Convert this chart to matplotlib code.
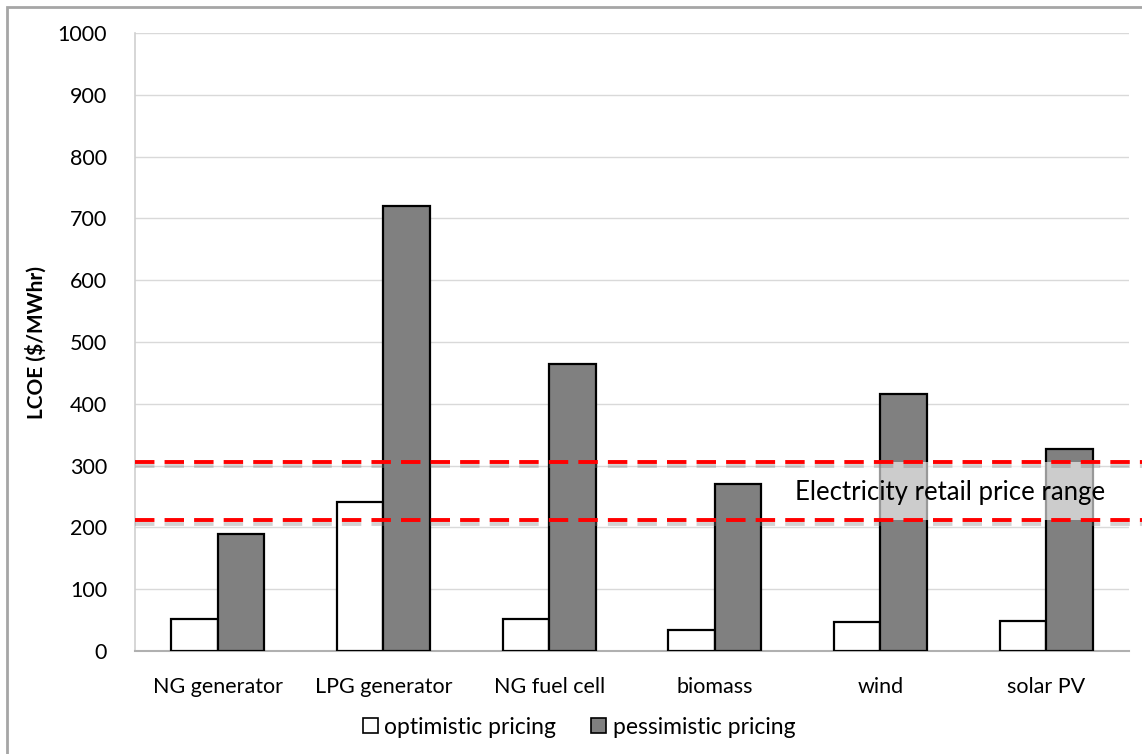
import matplotlib.pyplot as plt
import matplotlib.patheffects as pe
from matplotlib.patches import Rectangle, Patch
import numpy as np

plt.rcParams['font.family'] = ['Lato', 'DejaVu Sans']

# data
categories = ['NG generator', 'LPG generator', 'NG fuel cell', 'biomass', 'wind', 'solar PV']
optimistic = [51, 241, 52, 34, 47, 49]
pessimistic = [189, 720, 464, 270, 416, 327]
retail_low, retail_high = 212, 306
yticks = list(range(0, 1001, 100))

fig = plt.figure(figsize=(11.42, 7.54), dpi=100)
ax = fig.add_axes([0.1182, 0.1366, 0.8704, 0.8196])

x = np.arange(len(categories))
w = 0.28
ax.bar(x - w / 2, optimistic, w, color='white', edgecolor='black', linewidth=1.6, zorder=3)
ax.bar(x + w / 2, pessimistic, w, color='#808080', edgecolor='black', linewidth=1.6, zorder=3)

ax.set_xlim(-0.5, len(categories) - 0.5)
ax.set_ylim(0, 1000)
ax.set_yticks(yticks)
ax.set_xticks(x)
ax.set_xticklabels(categories, fontsize=15.5)
ax.tick_params(axis='y', labelsize=15.5, length=0, pad=20)
ax.tick_params(axis='x', length=0, pad=19)
ax.grid(axis='y', color='#d9d9d9', linewidth=1, zorder=0)
for s in ['top', 'right']:
    ax.spines[s].set_visible(False)
ax.spines['left'].set_color('#d0d0d0')
ax.spines['bottom'].set_color('#b0b0b0')
ax.spines['left'].set_linewidth(1.2)
ax.spines['bottom'].set_linewidth(1.5)
ax.set_ylabel('LCOE ($/MWhr)', fontsize=15, fontweight='bold', labelpad=8)

# retail price band label box
ax.add_patch(Rectangle((3.52, retail_low), 1.8, retail_high - retail_low,
                       facecolor='white', alpha=0.6, edgecolor='none', zorder=4))
ax.text(4.42, (retail_low + retail_high) / 2 - 3, 'Electricity retail price range',
        fontsize=18.5, ha='center', va='center', zorder=5)

for yv in [retail_low, retail_high]:
    ax.plot([-0.5, 5.6], [yv, yv], color='red', linewidth=2.8,
            linestyle=(0, (5, 2.6)), zorder=6, clip_on=False,
            path_effects=[pe.SimpleLineShadow(offset=(0, -3), shadow_color='gray', alpha=0.35),
                          pe.Normal()])

handles = [Patch(facecolor='white', edgecolor='black', linewidth=1.2),
           Patch(facecolor='#808080', edgecolor='black', linewidth=1.2)]
fig.legend(handles, ['optimistic pricing', 'pessimistic pricing'], loc='center',
           bbox_to_anchor=(579 / 1142, 1 - 727 / 754), ncol=2, frameon=False,
           fontsize=16.5, handlelength=0.65, handleheight=0.65, handletextpad=0.3,
           columnspacing=1.5)

# figure border
fig.patches.append(Rectangle((7 / 1142, -0.1), 1.2, 1 - 7 / 754 + 0.1,
                             transform=fig.transFigure, fill=False,
                             edgecolor='#a6a6a6', linewidth=2))

fig.savefig('out.png', dpi=100)
